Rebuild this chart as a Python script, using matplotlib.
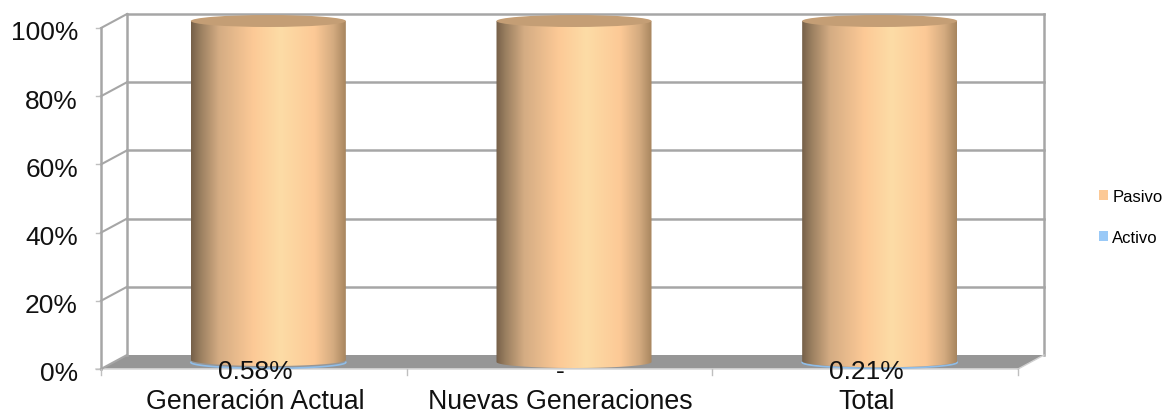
import numpy as np
import matplotlib
matplotlib.use("Agg")
import matplotlib.pyplot as plt
from matplotlib.colors import LinearSegmentedColormap
from matplotlib.patches import Ellipse, Polygon, PathPatch, Patch
from matplotlib.path import Path

plt.rcParams['font.family'] = ['Liberation Sans', 'DejaVu Sans']

categories = ['Generación Actual', 'Nuevas Generaciones', 'Total']
activo = [0.58, 0.0, 0.21]
pasivo = [99.42, 100.0, 99.79]
data_labels = ['0.58%', '-', '0.21%']
y_ticks = [0, 20, 40, 60, 80, 100]

W, H = 1165, 414
GRID = '#a6a6a6'

# front plane of the 3D box in pixels
left, right, bottom, top = 101, 1018, 370, 29
fig = plt.figure(figsize=(W / 100, H / 100), dpi=100)
ax = fig.add_axes([left / W, 1 - bottom / H, (right - left) / W, (bottom - top) / H])
ax.set_xlim(-0.5, 2.5)
ax.set_ylim(0, 100)
ax.axis('off')

# depth of the box, in data units
px_x = 3 / (right - left)
px_y = 100 / (bottom - top)
dx = 26 * px_x
dy = 14 * px_y
x0, x1 = -0.5, 2.5

# floor
ax.add_patch(Polygon([(x0, 0), (x1, 0), (x1 + dx, dy), (x0 + dx, dy)], closed=True,
                     fc='#969696', ec='none', clip_on=False, zorder=1))
ax.plot([x0 - 5 * px_x, x1], [0, 0], color='#d9d9d9', lw=1.2, clip_on=False, zorder=1)

# walls and gridlines
for v in y_ticks:
    if v > 0:
        ax.plot([x0 + dx, x1 + dx], [v + dy, v + dy], color=GRID, lw=1.8, clip_on=False, zorder=1)
    ax.plot([x0, x0 + dx], [v, v + dy], color=GRID, lw=1.5, clip_on=False, zorder=1)
    ax.plot([x0 - 5 * px_x, x0], [v, v], color='#bfbfbf', lw=1, clip_on=False, zorder=1)
ax.plot([x0, x0], [0, 100], color=GRID, lw=1.8, clip_on=False, zorder=1)
ax.plot([x0 + dx, x0 + dx], [dy, 100 + dy], color=GRID, lw=1.8, clip_on=False, zorder=1)
ax.plot([x1 + dx, x1 + dx], [dy, 100 + dy], color=GRID, lw=1.8, clip_on=False, zorder=1)
ax.plot([x1, x1 + dx], [0, dy], color='#d0d0d0', lw=1, clip_on=False, zorder=1)
for i in range(4):
    ax.plot([x0 + i, x0 + i], [0, -6 * px_y], color='#bfbfbf', lw=1, clip_on=False, zorder=1)

# cylinders
cmap = LinearSegmentedColormap.from_list('cyl', [
    (0.0, '#766049'), (0.06, '#9a7f60'), (0.18, '#d4ac83'), (0.40, '#fcc996'),
    (0.58, '#fddca6'), (0.80, '#fcc996'), (0.92, '#d4ab80'), (1.0, '#a8865f')])
grad = np.linspace(0, 1, 256).reshape(1, -1)
bar_w = 155 * px_x
rx = bar_w / 2
ry = 6 * px_y
cyl_dx = 14.5 * px_x
cyl_dy = 7 * px_y


def half_ellipse_pts(cx, cy):
    t = np.linspace(np.pi, 2 * np.pi, 60)
    return np.column_stack([cx + rx * np.cos(t), cy + ry * np.sin(t)])


for i in range(len(categories)):
    cx = i + cyl_dx
    y_a = activo[i] + cyl_dy
    y_t = activo[i] + pasivo[i] + cyl_dy
    # thin Activo base, only its lower rim shows
    if activo[i] > 0:
        rim = half_ellipse_pts(cx, cyl_dy - 0.1)
        ax.plot(rim[:, 0], rim[:, 1], color='#8fbde8', lw=1.2, clip_on=False, zorder=2)
    # Pasivo body with horizontal shading
    low = half_ellipse_pts(cx, y_a)
    verts = np.vstack([low, [[cx + rx, y_t]], [[cx - rx, y_t]], low[:1]])
    body = PathPatch(Path(verts), fc='none', ec='none', transform=ax.transData)
    ax.add_patch(body)
    im = ax.imshow(grad, cmap=cmap, aspect='auto', zorder=3,
                   extent=[cx - rx, cx + rx, -5, 110])
    # the cylinder sits in the box depth, above the front plane
    im.set_clip_box(fig.bbox)
    im.set_clip_path(body)
    ax.add_patch(Ellipse((cx, y_t), 2 * rx, 2 * ry, fc='#c49e75', ec='none',
                         clip_on=False, zorder=4))
    ax.text(i + 1 * px_x, -0.7, data_labels[i], ha='center', va='center', fontsize=19,
            color='#111111', clip_on=False, zorder=6)
    ax.text(i + 1 * px_x, -9.3, categories[i], ha='center', va='center', fontsize=19.3,
            color='#111111', clip_on=False, zorder=6)

ax.set_xlim(-0.5, 2.5)
ax.set_ylim(0, 100)

for v in y_ticks:
    ax.text(x0 - 23 * px_x, v - 1.3, f'{v}%', ha='right', va='center', fontsize=19, color='#111111')

# legend
handles = [Patch(fc='#fcc996', ec='none', label='Pasivo'),
           Patch(fc='#99c9f7', ec='none', label='Activo')]
fig.legend(handles=handles, loc='center left', bbox_to_anchor=(1099 / W, 1 - 218 / H),
           frameon=False, fontsize=12, handlelength=0.54, handleheight=0.54,
           handletextpad=0.25, labelspacing=1.6, borderpad=0, borderaxespad=0)

fig.savefig('out.png', dpi=100)
